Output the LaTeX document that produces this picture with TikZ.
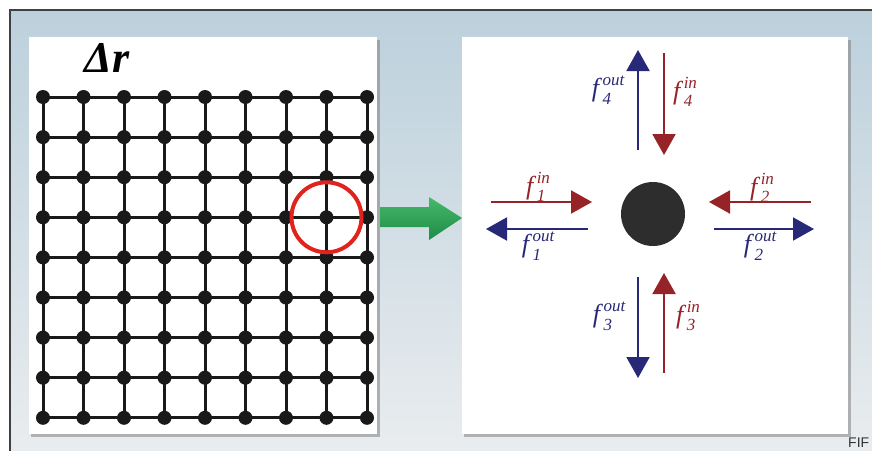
\documentclass[tikz,border=0pt]{standalone}
\usepackage{fontspec}
\setmainfont{Liberation Serif}
\newfontfamily\sansf{Liberation Sans}
\usetikzlibrary{arrows.meta}
\definecolor{bgtop}{RGB}{188,208,220}
\definecolor{bgbot}{RGB}{234,237,239}
\definecolor{arrred}{RGB}{150,35,40}
\definecolor{arrblue}{RGB}{40,40,120}
\definecolor{gridk}{RGB}{25,25,25}
\definecolor{ringred}{RGB}{225,35,30}
\definecolor{gtop}{RGB}{70,185,105}
\definecolor{gbot}{RGB}{30,140,70}
\definecolor{ball}{RGB}{45,45,45}
\newcommand\flab[2]{\fontsize{26}{26}\selectfont\itshape f\kern3.5pt\raisebox{-0.3em}{\rlap{\fontsize{17}{17}\selectfont #1}}\raisebox{0.42em}{\fontsize{17}{17}\selectfont #2}}
\tikzset{
  panel/.style={rectangle, fill=white, inner sep=0pt},
  gridline/.style={line width=3pt, color=gridk},
  dot/.style={circle, fill=gridk, inner sep=0pt, minimum size=14pt},
  inarr/.style={line width=2pt, color=arrred, -{Triangle[length=21pt,width=23pt]}},
  outarr/.style={line width=2pt, color=arrblue, -{Triangle[length=21pt,width=23pt]}},
  redlab/.style={text=arrred, inner sep=0pt},
  bluelab/.style={text=arrblue, inner sep=0pt}
}
\begin{document}
\begin{tikzpicture}[x=1pt,y=-1pt]
\useasboundingbox (0,0) rectangle (872,450);
\fill[white] (0,0) rectangle (872,450);
\shade[top color=bgtop,bottom color=bgbot] (10,10) rectangle (880,460);
\draw[line width=1.5pt, color=black!75] (10,460) -- (10,10) -- (880,10);
% shadows
\fill[black!50, opacity=0.55] (31,40) rectangle (380,437);
\fill[black!50, opacity=0.55] (464,40) rectangle (851,437);
% panels
\node[panel, minimum width=348pt, minimum height=397pt] (lp) at (203,235.5) {};
\node[panel, minimum width=386pt, minimum height=397pt] (rp) at (655,235.5) {};
% label
\node[font=\fontsize{44}{44}\selectfont\bfseries\itshape, inner sep=0pt] (dr) at (107,58) {Δr};
% grid
\foreach \i in {0,...,8} {
  \foreach \j in {0,...,8} {
    \coordinate (g\i-\j) at ({43+40.5*\i},{97+40.1*\j});
  }
}
\foreach \i in {0,...,8} {
  \draw[gridline] (g\i-0) -- (g\i-8);
  \draw[gridline] (g0-\i) -- (g8-\i);
}
\foreach \i in {0,...,8} {
  \foreach \j in {0,...,8} {
    \node[dot] (d\i-\j) at (g\i-\j) {};
  }
}
\node[circle, draw=ringred, line width=4pt, minimum size=70pt, inner sep=0pt] (ring) at (g7-3) {};
% green arrow
\shade[top color=gtop,bottom color=gbot] (380,207) -- (429,207) -- (429,197) -- (462,218) -- (429,240) -- (429,227) -- (380,227) -- cycle;
% central ball
\node[circle, fill=ball, minimum size=64pt, inner sep=0pt] (c) at (653,214) {};
% arrow end points
\coordinate (a4o-s) at (638,150); \coordinate (a4o-e) at (638,50);
\coordinate (a4i-s) at (664,53);  \coordinate (a4i-e) at (664,155);
\coordinate (a1i-s) at (491,202); \coordinate (a1i-e) at (592,202);
\coordinate (a1o-s) at (588,229); \coordinate (a1o-e) at (486,229);
\coordinate (a2i-s) at (811,202); \coordinate (a2i-e) at (709,202);
\coordinate (a2o-s) at (714,229); \coordinate (a2o-e) at (814,229);
\coordinate (a3o-s) at (638,277); \coordinate (a3o-e) at (638,378);
\coordinate (a3i-s) at (664,373); \coordinate (a3i-e) at (664,273);
\draw[outarr] (a4o-s) -- (a4o-e);
\draw[inarr] (a4i-s) -- (a4i-e);
\draw[inarr] (a1i-s) -- (a1i-e);
\draw[outarr] (a1o-s) -- (a1o-e);
\draw[inarr] (a2i-s) -- (a2i-e);
\draw[outarr] (a2o-s) -- (a2o-e);
\draw[outarr] (a3o-s) -- (a3o-e);
\draw[inarr] (a3i-s) -- (a3i-e);
% labels
\node[bluelab] (l4o) at (608,90) {\flab{4}{out}};
\node[redlab] (l4i) at (685,92) {\flab{4}{in}};
\node[redlab] (l1i) at (538,187) {\flab{1}{in}};
\node[bluelab] (l1o) at (538,246) {\flab{1}{out}};
\node[redlab] (l2i) at (762,188) {\flab{2}{in}};
\node[bluelab] (l2o) at (760,246) {\flab{2}{out}};
\node[bluelab] (l3o) at (609,316) {\flab{3}{out}};
\node[redlab] (l3i) at (688,316) {\flab{3}{in}};
% caption fragment
\node[anchor=base west, font=\sansf\fontsize{14}{14}\selectfont, text=black!80, inner sep=0pt] (fig) at (848,447) {FIF};
\end{tikzpicture}
\end{document}
